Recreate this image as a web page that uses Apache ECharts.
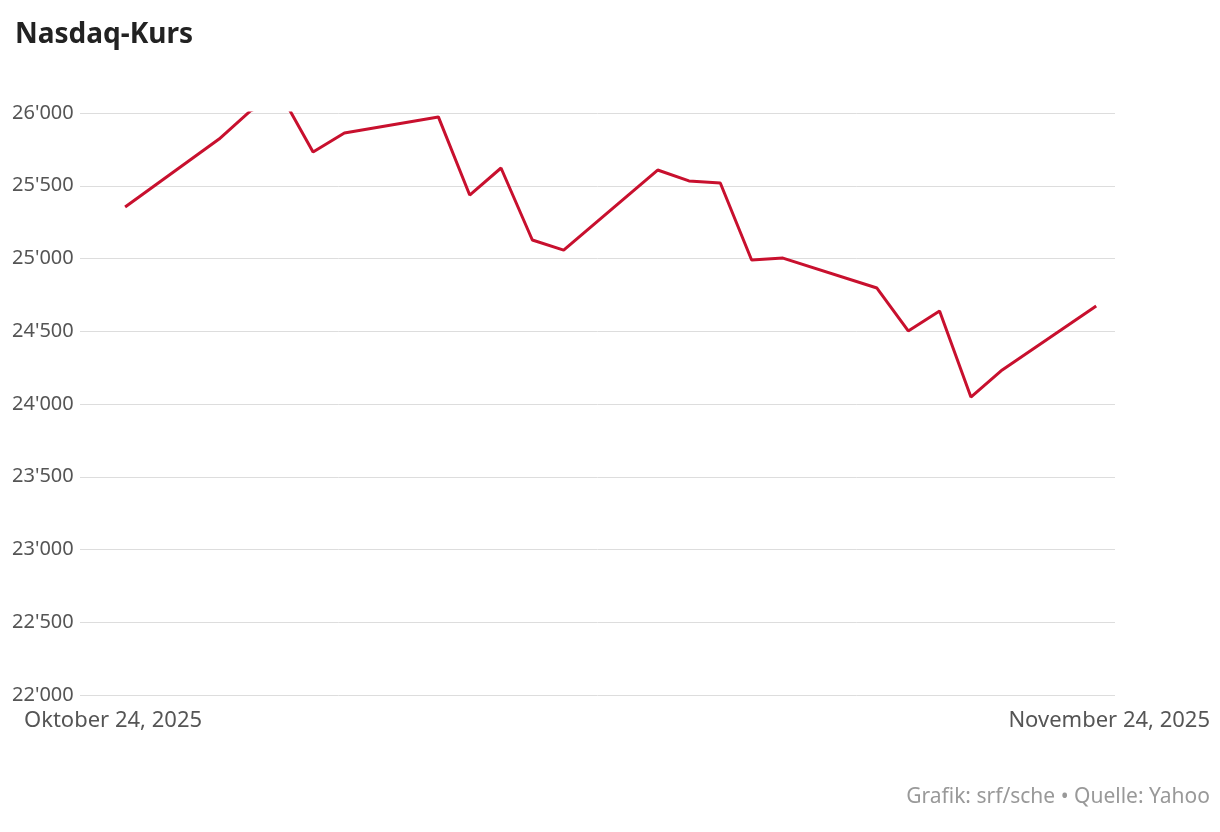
<!DOCTYPE html>
<html><head><meta charset="utf-8">
<script src="https://cdn.jsdelivr.net/npm/echarts@6/dist/echarts.min.js"></script>
<style>html,body{margin:0;background:#fff}#c{width:1220px;height:832px}</style>
</head><body><div id="c"></div>
<script>
const dates = ['2025-10-24','2025-10-27','2025-10-28','2025-10-29','2025-10-30','2025-10-31','2025-11-03','2025-11-04','2025-11-05','2025-11-06','2025-11-07','2025-11-10','2025-11-11','2025-11-12','2025-11-13','2025-11-14','2025-11-17','2025-11-18','2025-11-19','2025-11-20','2025-11-21','2025-11-24'];
const values = [25354,25821,26014,26117,25732,25863,25973,25436,25622,25127,25058,25608,25533,25519,24990,25003,24797,24502,24639,24048,24234,24674];
const DAY = 86400000;
const t0 = Date.parse('2025-10-24T00:00:00Z');
const t1 = Date.parse('2025-11-24T00:00:00Z');
const data = dates.map((d,i)=>[Date.parse(d+'T00:00:00Z'), values[i]]);
const fmt = v => String(v).replace(/\B(?=(\d{3})+(?!\d))/g, "'");
const chart = echarts.init(document.getElementById('c'));
chart.setOption({
  animation:false,
  textStyle:{fontFamily:'Noto Sans'},
  title:{text:'Nasdaq-Kurs',left:10,top:16,textStyle:{fontSize:28,fontWeight:'bold',color:'#222',fontFamily:'Noto Sans'}},
  grid:{left:80,right:105,top:113,bottom:137},
  xAxis:{type:'value',min:t0-1.44*DAY,max:t1+0.6*DAY,axisLine:{show:false},axisTick:{show:false},axisLabel:{show:false},splitLine:{show:false}},
  yAxis:{type:'value',min:22000,max:26000,interval:500,
    axisLabel:{align:'left',margin:68,fontSize:20,color:'#555',formatter:fmt},
    axisLine:{show:false},axisTick:{show:false},splitLine:{lineStyle:{color:'#ddd',width:1}}},
  series:[{type:'line',data:data,symbol:'none',lineStyle:{color:'#c8102e',width:3}}],
  graphic:[
    {type:'text',left:24,top:710,style:{text:'Oktober 24, 2025',fontSize:22,fill:'#555',fontFamily:'Noto Sans'}},
    {type:'text',right:10,top:710,style:{text:'November 24, 2025',fontSize:22,fill:'#555',fontFamily:'Noto Sans'}},
    {type:'text',right:10,top:787,style:{text:'Grafik: srf/sche • Quelle: Yahoo',fontSize:21,fill:'#999',fontFamily:'Noto Sans'}}
  ]
});
</script></body></html>
